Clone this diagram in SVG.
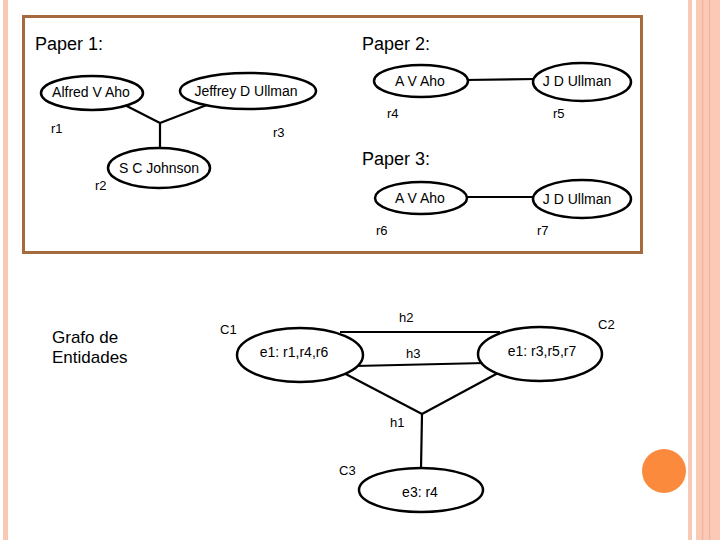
<svg xmlns="http://www.w3.org/2000/svg" width="720" height="540" viewBox="0 0 720 540">
<style>
.node ellipse{fill:#fff;stroke:#000;stroke-width:2.5}
.edges line{stroke:#000;stroke-width:2.2}
text{font-family:"Liberation Sans",Arial,sans-serif;fill:#000}
.t{font-size:14px;text-anchor:middle}
.lbl{font-size:13px}
.title{font-size:18px}
</style>
<rect width="720" height="540" fill="#fff"/>
<!-- decoration -->
<rect x="3" y="0" width="5" height="540" fill="#f9c9b6"/>
<rect x="688" y="0" width="4" height="540" fill="#f9c9b6"/>
<rect x="696" y="0" width="24" height="540" fill="#fbcab7"/>
<rect x="702" y="0" width="1.2" height="540" fill="#f2b29b"/>
<rect x="709" y="0" width="1.2" height="540" fill="#f2b29b"/>
<circle cx="664" cy="471" r="22" fill="#fb8a3c"/>
<rect x="23.5" y="16.5" width="618" height="236" fill="none" stroke="#a56a3e" stroke-width="3"/>

<text class="title" x="35" y="50">Paper 1:</text>
<text class="title" x="362" y="50">Paper 2:</text>
<text class="title" x="362" y="165">Paper 3:</text>
<text x="52" y="343" style="font-size:17px">Grafo de</text>
<text x="52" y="363" style="font-size:17px">Entidades</text>

<g class="edges">
<line x1="160" y1="123" x2="115" y2="100"/>
<line x1="160" y1="123" x2="225" y2="98"/>
<line x1="160" y1="123" x2="160" y2="150"/>
<line x1="465" y1="80" x2="536" y2="79"/>
<line x1="464" y1="197" x2="536" y2="197"/>
<line x1="340" y1="332" x2="500" y2="332"/>
<line x1="355" y1="366" x2="485" y2="363"/>
<line x1="340" y1="371" x2="422" y2="414"/>
<line x1="498" y1="373" x2="422" y2="414"/>
<line x1="422" y1="414" x2="421" y2="469"/>
</g>

<g id="alfred" class="node"><ellipse cx="92" cy="93" rx="51" ry="17"/><text class="t" x="91" y="97">Alfred V Aho</text></g>
<g id="jeffrey" class="node"><ellipse cx="248" cy="91" rx="68" ry="18"/><text class="t" x="246" y="96">Jeffrey D Ullman</text></g>
<g id="johnson" class="node"><ellipse cx="159" cy="168" rx="51" ry="20"/><text class="t" x="159" y="173">S C Johnson</text></g>
<g id="aho2" class="node"><ellipse cx="421" cy="81" rx="47" ry="16"/><text class="t" x="420" y="86">A V Aho</text></g>
<g id="ullman2" class="node"><ellipse cx="582" cy="82" rx="49" ry="19"/><text class="t" x="577" y="86">J D Ullman</text></g>
<g id="aho3" class="node"><ellipse cx="421" cy="198" rx="46" ry="16"/><text class="t" x="420" y="203">A V Aho</text></g>
<g id="ullman3" class="node"><ellipse cx="582" cy="199" rx="49" ry="19"/><text class="t" x="577" y="204">J D Ullman</text></g>
<g id="c1" class="node"><ellipse cx="300" cy="355" rx="63" ry="27"/><text class="t" x="294" y="357">e1: r1,r4,r6</text></g>
<g id="c2" class="node"><ellipse cx="540" cy="354" rx="62" ry="27"/><text class="t" x="542" y="356">e1: r3,r5,r7</text></g>
<g id="c3" class="node"><ellipse cx="421" cy="490" rx="62" ry="22"/><text class="t" x="420" y="497">e3: r4</text></g>

<g id="labels" class="lbl">
<text x="51" y="133">r1</text>
<text x="95" y="190">r2</text>
<text x="273" y="137">r3</text>
<text x="387" y="118">r4</text>
<text x="553" y="118">r5</text>
<text x="376" y="235">r6</text>
<text x="537" y="235">r7</text>
<text x="220" y="334">C1</text>
<text x="598" y="329">C2</text>
<text x="339" y="475">C3</text>
<text x="399" y="322">h2</text>
<text x="406" y="358">h3</text>
<text x="390" y="427">h1</text>
</g>
</svg>
